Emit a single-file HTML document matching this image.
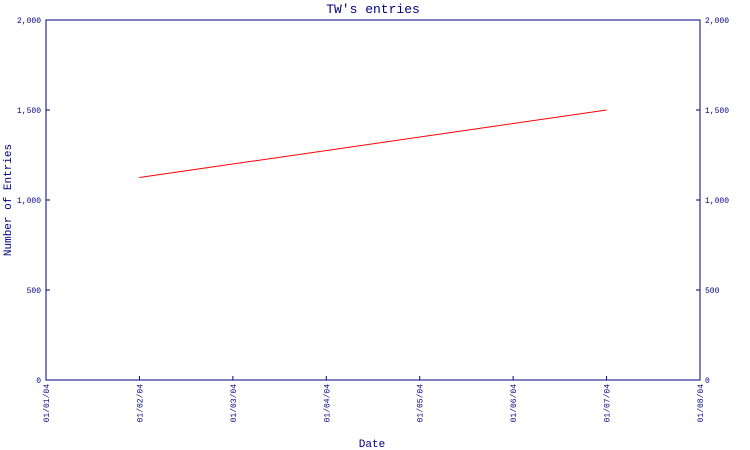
<!DOCTYPE html>
<html><head><meta charset="utf-8"><style>
body{margin:0;background:#fff}
svg{display:block}
text{font-family:"Liberation Mono","DejaVu Sans Mono",monospace;fill:#000080}
</style></head><body>
<svg id="c" width="750" height="450">
<text x="373" y="13" font-size="13" text-anchor="middle">TW's entries</text>
<text x="372" y="447" font-size="11" text-anchor="middle">Date</text>
<text transform="translate(11,200) rotate(-90)" font-size="11" text-anchor="middle">Number of Entries</text>
<g id="g"></g>
</svg>
<script>
const categories=["01/01/04","01/02/04","01/03/04","01/04/04","01/05/04","01/06/04","01/07/04","01/08/04"];
const seriesX=[1,6];
const seriesValues=[1125,1500];
const yTicks=[0,500,1000,1500,2000];
const yTickLabels=["0","500","1,000","1,500","2,000"];
const L=46,R=700,T=20,B=380,YMAX=2000;
const xs=i=>L+i*(R-L)/(categories.length-1);
const ys=v=>B-v/YMAX*(B-T);
const g=document.getElementById('g');
const NS='http://www.w3.org/2000/svg';
function mk(t,a){const e=document.createElementNS(NS,t);for(const k in a)e.setAttribute(k,a[k]);g.appendChild(e);return e;}
let fr=mk('rect',{x:L,y:T,width:R-L,height:B-T,fill:'none',stroke:'#000080','stroke-width':1});


yTicks.forEach((v,i)=>{
 const y=ys(v);
 let t=mk('line',{x1:L,x2:L+4,y1:y,y2:y,stroke:'#000080'});
 
 
 let t2=mk('line',{x1:R-4,x2:R,y1:y,y2:y,stroke:'#000080'});
 
 
 let a=mk('text',{x:L-5,y:y+3,'font-size':8,'text-anchor':'end'});a.textContent=yTickLabels[i];
 
 
 let b=mk('text',{x:R+5,y:y+3,'font-size':8});b.textContent=yTickLabels[i];
 
 
});
categories.forEach((c,i)=>{
 const x=xs(i);
 let t=mk('line',{x1:x,x2:x,y1:B-4,y2:B,stroke:'#000080'});
 
 
 let a=mk('text',{transform:`translate(${x+3},${B+4}) rotate(-90)`,'font-size':8,'text-anchor':'end'});a.textContent=c;
 
 
});
let p=mk('polyline',{points:seriesX.map((c,i)=>xs(c)+','+ys(seriesValues[i])).join(' '),fill:'none',stroke:'#ff0000','stroke-width':1});


</script>
</body></html>
